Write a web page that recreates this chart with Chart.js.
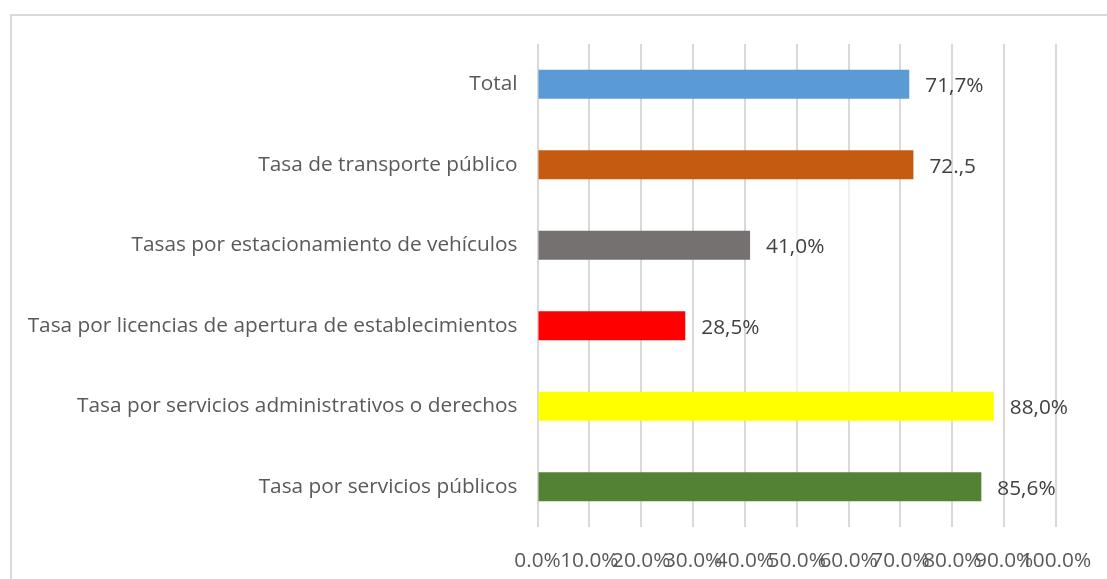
<!DOCTYPE html>
<html>
<head>
<meta charset="utf-8">
<script src="https://cdn.jsdelivr.net/npm/chart.js@4.4.0/dist/chart.umd.min.js"></script>
<style>
  html, body { margin: 0; padding: 0; background: #fff; overflow: hidden; }
  #frame {
    position: absolute; left: 10px; top: 14px; width: 1200px; height: 700px;
    border-top: 2px solid #d9d9d9; border-left: 2px solid #d9d9d9;
  }
  #insightChart { position: absolute; left: 0; top: 0; }
</style>
</head>
<body>
<div id="frame"></div>
<canvas id="insightChart" width="1107" height="579"></canvas>
<script>
const categories = [
  "Total",
  "Tasa de transporte público",
  "Tasas por estacionamiento de vehículos",
  "Tasa por licencias de apertura de establecimientos",
  "Tasa por servicios administrativos o derechos",
  "Tasa por servicios públicos"
];
const values = [71.7, 72.5, 41.0, 28.5, 88.0, 85.6];
const valueLabels = ["71,7%", "72.,5", "41,0%", "28,5%", "88,0%", "85,6%"];
const barColors = ["#5b9bd5", "#c55a11", "#767171", "#ff0000", "#ffff00", "#548235"];
const tickValues = [0, 10, 20, 30, 40, 50, 60, 70, 80, 90, 100];

const FONT = "'Open Sans', sans-serif";
const FONT_SIZE = 20.8;

// value labels to the right of each bar
const barLabels = {
  id: "barLabels",
  afterDatasetsDraw(chart) {
    const ctx = chart.ctx;
    const meta = chart.getDatasetMeta(0);
    ctx.save();
    ctx.font = FONT_SIZE + "px " + FONT;
    ctx.fillStyle = "#404040";
    ctx.textAlign = "left";
    ctx.textBaseline = "middle";
    meta.data.forEach((bar, i) => {
      ctx.fillText(valueLabels[i], bar.x + 16, bar.y + 2);
    });
    ctx.restore();
  }
};

// the pale patch over the 50% / 60% gridlines seen in the original
const palePatch = {
  id: "palePatch",
  beforeDatasetsDraw(chart) {
    const x = chart.scales.x, y = chart.scales.y;
    const meta = chart.getDatasetMeta(0);
    const h = meta.data[1].height;
    const top = y.getPixelForValue(1) + h / 2;
    const bottom = y.getPixelForValue(4) - h / 2 + 1;
    const ctx = chart.ctx;
    ctx.save();
    ctx.fillStyle = "rgba(255,255,255,0.6)";
    ctx.fillRect(x.getPixelForValue(50) - 1.5, top, x.getPixelForValue(60) - x.getPixelForValue(50) + 3, bottom - top);
    ctx.restore();
  }
};

const chart = new Chart(document.getElementById("insightChart").getContext("2d"), {
  type: "bar",
  data: {
    labels: categories,
    datasets: [{
      data: values,
      backgroundColor: barColors,
      borderWidth: 0,
      barPercentage: 0.36,
      categoryPercentage: 1
    }]
  },
  options: {
    indexAxis: "y",
    responsive: false,
    devicePixelRatio: 1,
    animation: false,
    layout: { padding: { top: 44, right: 51, left: 0, bottom: 0 } },
    plugins: {
      legend: { display: false },
      tooltip: { enabled: false }
    },
    scales: {
      x: {
        min: 0,
        max: 100,
        afterFit(scale) {
          scale.height = 52;
          scale.paddingLeft = 0;
          scale.paddingRight = 0;
        },
        afterBuildTicks(scale) { scale.ticks = tickValues.map(v => ({ value: v })); },
        grid: { color: "#d9d9d9", lineWidth: 2, drawTicks: false },
        border: { display: false },
        ticks: {
          autoSkip: false,
          maxRotation: 0,
          minRotation: 0,
          padding: 22,
          color: "#595959",
          font: { family: FONT, size: FONT_SIZE },
          callback: v => v.toFixed(1) + "%"
        }
      },
      y: {
        afterFit(scale) { scale.width = 537.5; },
        grid: { display: false },
        border: { display: false },
        ticks: {
          padding: 12,
          color: "#595959",
          font: { family: FONT, size: FONT_SIZE }
        }
      }
    }
  },
  plugins: [palePatch, barLabels]
});
</script>
</body>
</html>
